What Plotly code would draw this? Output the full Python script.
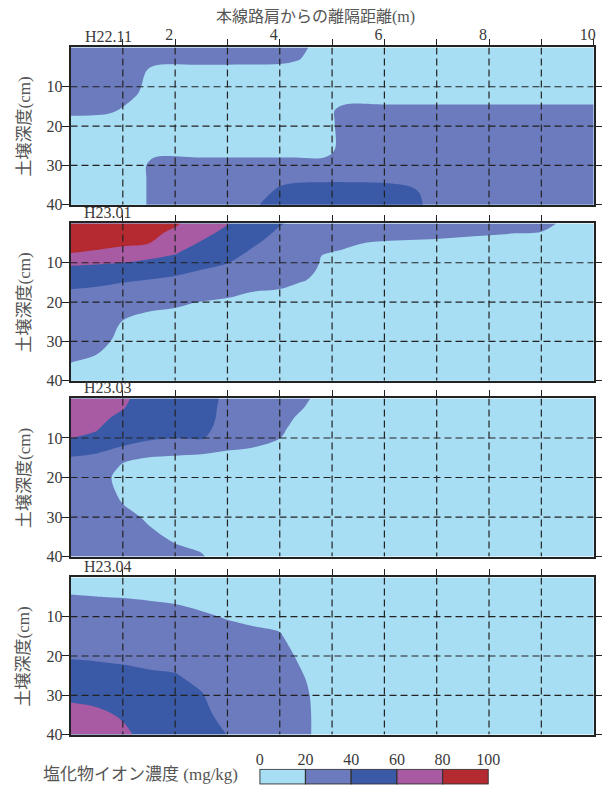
import plotly.graph_objects as go

# ---------------------------------------------------------------------------
# Chloride ion concentration (mg/kg) in the soil beside the main road shoulder
# x: distance from the shoulder (m), y: soil depth (cm)
# ---------------------------------------------------------------------------

# H22.11 survey
dist_h2211 = [0, 0.7, 1.3, 1.6, 2.5, 3.5, 4.0, 4.3, 4.85, 5.25, 6.0, 6.5, 7.0, 8.5, 10]
depth_h2211 = [0, 3, 6, 10, 13, 16, 19, 26, 30, 33, 37, 40]
cl_h2211 = [
    [32, 32, 31, 30, 30, 30, 30, 28, 10, 10, 10, 10, 10, 10, 10],
    [32, 32, 31, 30, 29, 28, 27, 22, 10, 10, 10, 10, 10, 10, 10],
    [32, 31, 28, 12, 10, 10, 10, 10, 10, 10, 10, 10, 10, 10, 10],
    [31, 30, 22, 10, 10, 10, 10, 10, 10, 10, 10, 10, 10, 10, 10],
    [30, 30, 18, 10, 10, 10, 10, 10, 10, 10, 10, 10, 10, 10, 10],
    [27, 24, 12, 10, 10, 10, 10, 10, 10, 30, 30, 30, 30, 30, 30],
    [12, 11, 10, 10, 10, 10, 10, 10, 10, 30, 30, 30, 30, 30, 30],
    [10, 10, 10, 10, 10, 10, 10, 10, 10, 30, 30, 30, 30, 30, 30],
    [10, 10, 10, 30, 30, 30, 30, 30, 30, 30, 30, 30, 30, 30, 30],
    [10, 10, 10, 30, 30, 31, 33, 33, 33, 33, 33, 32, 30, 30, 30],
    [10, 10, 10, 30, 30, 30, 45, 52, 55, 55, 52, 45, 30, 30, 30],
    [10, 10, 10, 30, 30, 37, 50, 55, 56, 56, 53, 47, 32, 30, 30],
]

# H23.01 survey
dist_h2301 = [0, 0.5, 1, 1.5, 2, 2.5, 3, 3.5, 4, 4.5, 4.8, 5.2, 6, 7, 8, 9, 10]
depth_h2301 = [0, 2.5, 5, 7.5, 10, 12.5, 15, 17.5, 20, 22.5, 25, 30, 35, 40]
cl_h2301 = [
    [95, 94, 92, 88, 82, 72, 61, 50, 41, 36, 34, 32, 29, 27, 25, 22, 15],
    [90.1, 89.1, 87.4, 84, 76.6, 65.2, 55.1, 45.8, 37.4, 33.1, 29.3, 26.5, 23.9, 22, 20.4, 19.6, 15],
    [85.1, 84.3, 82.8, 80.3, 68.9, 58.4, 50.2, 41.7, 34.2, 30.3, 24.7, 21.1, 19, 18.5, 18.5, 19, 15],
    [80.2, 78.1, 74.3, 67.5, 61.2, 51.6, 45.3, 37.3, 31, 27.4, 20.3, 19.4, 18.8, 18.8, 18.8, 18.5, 15],
    [63.4, 61.9, 60.2, 56, 52.1, 44.9, 40.4, 32.7, 27.7, 24.6, 19.2, 18.7, 18.5, 18.5, 18.5, 18, 15],
    [52.7, 51.5, 50, 46, 42.6, 38.1, 34.1, 28.2, 24.5, 21.7, 18.5, 18, 18, 18, 18, 17.5, 15],
    [43.6, 41.9, 40.2, 37.5, 35.1, 31.5, 27.7, 23.6, 21.3, 19.6, 17.7, 17.2, 17, 17, 17, 17, 15],
    [38.5, 37.7, 34.4, 31.3, 28.2, 24.8, 21.3, 19.8, 19.4, 18.7, 16.9, 16.5, 16.5, 16.5, 16.5, 16.5, 14.5],
    [35.9, 34.9, 28.9, 25, 21.4, 19.7, 19.1, 18.7, 18.3, 17.7, 16.2, 15.8, 16, 16, 16, 16, 14],
    [33.3, 32, 23.3, 19.8, 19.1, 18.6, 18, 17.6, 17.3, 16.8, 15.4, 15.1, 15, 15, 15, 15, 13.5],
    [30.8, 29.1, 19.5, 18.7, 17.9, 17.5, 16.8, 16.5, 16.3, 15.8, 14.6, 14.3, 14, 14, 14, 14, 13],
    [25.6, 23.4, 17, 16.4, 15.6, 15.3, 14.5, 14.3, 14.2, 13.9, 13.1, 12.9, 13, 13, 13, 13, 12],
    [20.5, 18.3, 14.5, 14.2, 13.3, 13.1, 12.3, 12.2, 12.1, 12, 11.5, 11.4, 11.5, 11.5, 11.5, 11.5, 11],
    [15, 14, 12, 12, 11, 11, 10, 10, 10, 10, 10, 10, 10, 10, 10, 10, 10],
]

# H23.03 survey
dist_h2303 = [0, 0.5, 1, 1.5, 2, 2.5, 3, 3.5, 4, 4.5, 5, 6, 8, 10]
depth_h2303 = [0, 2.5, 5, 7.5, 10, 12.5, 15, 17.5, 20, 25, 30, 35, 40]
cl_h2303 = [
    [70, 68, 62, 55, 48, 46, 37, 32, 26, 21, 15, 12, 10, 10],
    [67.5, 65.8, 60.6, 51.7, 46.1, 46, 36, 31, 25, 19.5, 14, 11, 10, 10],
    [65.1, 63.5, 56.6, 48.5, 44.2, 46, 35, 30, 23.5, 17, 13, 10, 10, 10],
    [62.6, 61.3, 50.9, 45.2, 42.3, 45, 33, 28, 22, 15, 12, 10, 10, 10],
    [60.2, 57, 45.2, 42, 40.5, 42, 28, 25, 20.2, 13, 11, 10, 10, 10],
    [48.8, 43.6, 38.8, 34, 27.7, 25.7, 21.5, 19.8, 16, 12, 10, 10, 10, 10],
    [39.1, 37.2, 23.6, 19.5, 18, 17, 16, 15, 13, 10, 10, 10, 10, 10],
    [36, 33, 17, 16, 15, 14, 13, 12, 11, 10, 10, 10, 10, 10],
    [33, 28, 14, 14, 13, 12, 11, 11, 10, 10, 10, 10, 10, 10],
    [31, 27, 18.5, 15, 13, 12, 11, 10, 10, 10, 10, 10, 10, 10],
    [30, 28, 23, 18.5, 15, 13, 11, 10, 10, 10, 10, 10, 10, 10],
    [29, 29, 25, 22, 18.5, 16, 12, 10, 10, 10, 10, 10, 10, 10],
    [28, 29, 27, 25, 23, 21, 14, 10, 10, 10, 10, 10, 10, 10],
]

# H23.04 survey
dist_h2304 = [0, 0.5, 1, 1.5, 2, 2.5, 3, 3.5, 4, 4.5, 5, 6, 8, 10]
depth_h2304 = [0, 5, 10, 15, 20, 25, 30, 35, 40]
cl_h2304 = [
    [16, 16, 15.5, 15, 14.5, 14, 13.5, 13, 12.5, 12, 11, 10, 10, 10],
    [20.6, 20.1, 19.7, 19, 18.2, 17.3, 16.5, 15.8, 15.3, 13.5, 11.5, 10.5, 10, 10],
    [26.5, 26, 25.5, 24.4, 23.2, 21.1, 19.5, 18.6, 18.2, 15, 12, 11, 10, 10],
    [32.5, 31.9, 31.3, 30.4, 29.3, 26.3, 22.8, 21.5, 20.5, 16.5, 12.5, 11, 10, 10],
    [38.5, 37.8, 37.1, 36.3, 35.4, 31.6, 26.2, 24.5, 22.5, 18, 13, 11.5, 10, 10],
    [47.3, 45.8, 43.7, 41.7, 40.7, 36.8, 29.6, 26.8, 24, 19.7, 13.5, 11.5, 10, 10],
    [57.1, 55.3, 51.1, 46.1, 43.8, 40.8, 33, 28.8, 25, 21, 14, 12, 10, 10],
    [64.9, 63, 58.5, 50.6, 46.9, 42.9, 36.4, 30.5, 25.5, 21.5, 14, 12, 10, 10],
    [72, 69, 63, 55, 50, 45, 39.8, 32, 26, 21.5, 14, 12, 10, 10],
]

panel_labels = ["H22.11", "H23.01", "H23.03", "H23.04"]
x_tick_vals = [1, 2, 3, 4, 5, 6, 7, 8, 9, 10]
x_tick_text = ["", "2", "", "4", "", "6", "", "8", "", "10"]
depth_ticks = [10, 20, 30, 40]
level_edges = [0, 20, 40, 60, 80, 100]
level_colors = ["#a8def4", "#6b7bbd", "#3a5aa8", "#a85ba2", "#b52a31"]

surveys = [
    (dist_h2211, depth_h2211, cl_h2211),
    (dist_h2301, depth_h2301, cl_h2301),
    (dist_h2303, depth_h2303, cl_h2303),
    (dist_h2304, depth_h2304, cl_h2304),
]

# ---------------------------------------------------------------------------
W, H = 611, 794
SERIF = "Liberation Serif, Noto Sans CJK JP, serif"
INK = "#222222"
TXT = "#3a3a3a"

def px(x):
    return x / W

def py(y):
    return 1 - y / H

plot_left, plot_right = 68.3, 605.5
panel_rows = [(48, 207), (226, 385), (403, 563), (584, 743)]

# stepped colour scale: one flat colour per 20 mg/kg band
c = level_colors
colorscale = [
    [0.00, c[0]], [0.23, c[0]], [0.23, c[1]], [0.42, c[1]], [0.42, c[2]],
    [0.58, c[2]], [0.58, c[3]], [0.77, c[3]], [0.77, c[4]], [1.00, c[4]],
]

fig = go.Figure()
layout = dict(
    width=W, height=H, margin=dict(l=0, r=0, t=0, b=0),
    paper_bgcolor="white", plot_bgcolor="white", showlegend=False,
    font=dict(family=SERIF, color=TXT),
)
shapes = []
annotations = []

for i, ((xs, ds, zs), (top, bot)) in enumerate(zip(surveys, panel_rows)):
    n = i + 1
    xa = "x" if n == 1 else f"x{n}"
    ya = "y" if n == 1 else f"y{n}"
    fig.add_trace(go.Contour(
        x=xs, y=ds, z=zs, xaxis=xa, yaxis=ya,
        zmin=0, zmax=100, autocontour=False,
        contours=dict(start=0, end=100, size=20, coloring="fill", showlines=False),
        colorscale=colorscale, showscale=False,
        line=dict(width=0, smoothing=1.0), hoverinfo="skip",
    ))
    first = n == 1
    layout["xaxis" if first else f"xaxis{n}"] = dict(
        domain=[px(plot_left), px(plot_right)], anchor=ya, range=[0, 10],
        side="top", tickmode="array",
        tickvals=x_tick_vals if first else x_tick_vals[:-1],
        ticktext=x_tick_text if first else x_tick_text[:-1],
        showticklabels=first, ticks="outside", ticklen=7, tickwidth=1.2,
        tickcolor=INK, ticklabelshift=-6, ticklabelstandoff=-8,
        tickfont=dict(family=SERIF, size=16, color=TXT),
        showline=True, mirror=True, linecolor=INK, linewidth=1.5,
        showgrid=False, zeroline=False, layer="above traces", fixedrange=True,
    )
    layout["yaxis" if first else f"yaxis{n}"] = dict(
        domain=[py(bot), py(top)], anchor=xa, range=[40, 0],
        tickmode="array", tickvals=depth_ticks, ticktext=[str(v) for v in depth_ticks],
        ticks="outside", ticklen=7, tickwidth=1.2, tickcolor=INK,
        ticklabelstandoff=-4,
        tickfont=dict(family=SERIF, size=16, color=TXT),
        showline=True, mirror="ticks", linecolor=INK, linewidth=1.5,
        showgrid=False, zeroline=False, layer="above traces", fixedrange=True,
    )
    # dashed grid drawn over the filled contours
    grid = dict(color=INK, width=1.2, dash="7px,4px")
    for xv in x_tick_vals[:-1]:
        shapes.append(dict(type="line", xref=xa, yref=ya, x0=xv, x1=xv, y0=0, y1=40,
                           line=grid, layer="above"))
    for dv in depth_ticks[:-1]:
        shapes.append(dict(type="line", xref=xa, yref=ya, x0=0, x1=10, y0=dv, y1=dv,
                           line=grid, layer="above"))
    # survey label and depth title
    annotations.append(dict(
        text=panel_labels[i], xref="paper", yref="paper",
        x=px(107), y=py(top - 11), xanchor="center", yanchor="middle",
        showarrow=False, font=dict(family=SERIF, size=16, color=TXT),
    ))
    annotations.append(dict(
        text="土壌深度(cm)", xref="paper", yref="paper",
        x=px(21), y=py((top + bot) / 2), xanchor="center", yanchor="middle",
        textangle=-90, showarrow=False, font=dict(family=SERIF, size=17, color="#555555"),
    ))

# distance axis title
annotations.append(dict(
    text="本線路肩からの離隔距離(m)", xref="paper", yref="paper",
    x=px(320), y=py(17), xanchor="center", yanchor="middle",
    showarrow=False, font=dict(family=SERIF, size=16, color="#555555"),
))

# concentration legend: one box per band
band_mid = [(a + b) / 2 for a, b in zip(level_edges[:-1], level_edges[1:])]
fig.add_trace(go.Bar(
    x=band_mid, y=[1] * len(band_mid), width=20, base=0,
    marker=dict(color=level_colors, line=dict(color="#333333", width=1.2)),
    xaxis="x5", yaxis="y5", hoverinfo="skip",
))
layout["xaxis5"] = dict(
    domain=[px(262.2), px(497.8)], anchor="y5", range=[-0.2, 100.2],
    side="top", tickmode="array", tickvals=level_edges,
    ticktext=[str(v) for v in level_edges], ticks="",
    tickfont=dict(family=SERIF, size=16, color=TXT),
    showline=False, showgrid=False, zeroline=False, fixedrange=True,
)
layout["yaxis5"] = dict(
    domain=[py(793.6), py(777.6)], anchor="x5", range=[-0.03, 1.03],
    visible=False, fixedrange=True,
)
annotations.append(dict(
    text="塩化物イオン濃度 (mg/kg)", xref="paper", yref="paper",
    x=px(38), y=py(783), xanchor="left", yanchor="middle",
    showarrow=False, font=dict(family=SERIF, size=17, color="#555555"),
))

layout["shapes"] = shapes
layout["annotations"] = annotations
fig.update_layout(**layout)
fig.write_html("out.html")
